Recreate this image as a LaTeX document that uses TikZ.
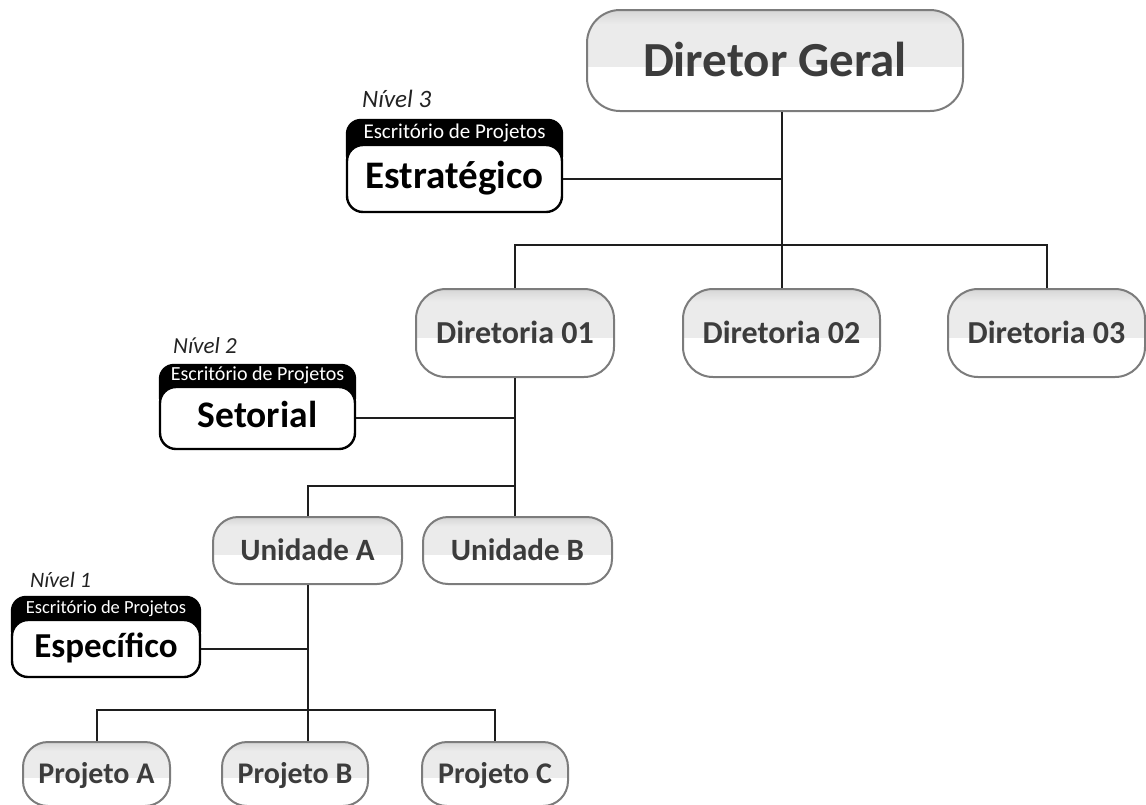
\documentclass[tikz,border=0pt]{standalone}
\usepackage{fontspec}
\setmainfont{Carlito}
\usetikzlibrary{calc,backgrounds}

\definecolor{boxline}{HTML}{7C7C7C}
\definecolor{boxband}{HTML}{EBEBEB}
\definecolor{boxbandtop}{HTML}{D6D6D6}
\definecolor{boxtext}{HTML}{3C3C3C}
\definecolor{wire}{HTML}{1E1E1E}
\definecolor{leveltext}{HTML}{222222}

\newcommand{\fsz}[1]{\fontsize{#1}{#1}\selectfont}

\tikzset{
  x=1pt, y=-1pt,
  % glossy grey organisational unit
  unitbox/.style={draw=boxline, line width=2pt, fill=white, inner sep=0pt,
    text=boxtext, text depth=0pt,
    path picture={
      \fill[boxband, sharp corners] (path picture bounding box.north west) rectangle
        ($(path picture bounding box.north east)!0.56!(path picture bounding box.south east)$);
      \shade[top color=boxbandtop, bottom color=boxband, sharp corners]
        (path picture bounding box.north west) rectangle
        ($(path picture bounding box.north east)!0.14!(path picture bounding box.south east)$);
    }},
  % project office box (white body under a black tab)
  pmobox/.style={draw=black, line width=2.4pt, fill=white, inner sep=0pt,
    rounded corners=16pt, text=black, text depth=5pt},
  pmotab/.style={fill=black, rounded corners=15pt},
  tabtext/.style={text=white, inner sep=0pt, anchor=base},
  level/.style={text=leveltext, inner sep=0pt, anchor=base west, font=\itshape},
  wire/.style={draw=wire, line width=2pt},
}

\begin{document}
\begin{tikzpicture}
\useasboundingbox (0,0) rectangle (1146,804);
\clip (0,0) rectangle (1146,804);

% ---- grey units ----
\node[unitbox, rounded corners=33pt, minimum width=376pt, minimum height=101pt,
      font=\bfseries\fsz{49}, text height=31.5pt] (dg) at (775,60.5) {Diretor Geral};

\node[unitbox, rounded corners=30pt, minimum width=198pt, minimum height=88pt,
      font=\bfseries\fsz{32}, text height=20.6pt] (d1) at (515,333) {Diretoria 01};
\node[unitbox, rounded corners=30pt, minimum width=197pt, minimum height=88pt,
      font=\bfseries\fsz{32}, text height=20.6pt] (d2) at (781.5,333) {Diretoria 02};
\node[unitbox, rounded corners=30pt, minimum width=197pt, minimum height=88pt,
      font=\bfseries\fsz{32}, text height=20.6pt] (d3) at (1046.5,333) {Diretoria 03};

\node[unitbox, rounded corners=25pt, minimum width=189pt, minimum height=67pt,
      font=\bfseries\fsz{31}, text height=20pt] (ua) at (307.5,550.5) {Unidade A};
\node[unitbox, rounded corners=25pt, minimum width=189pt, minimum height=67pt,
      font=\bfseries\fsz{31}, text height=20pt] (ub) at (517.5,550.5) {Unidade B};

\node[unitbox, rounded corners=25pt, minimum width=147pt, minimum height=64pt,
      font=\bfseries\fsz{30}, text height=19.3pt] (pa) at (96.5,774) {Projeto A};
\node[unitbox, rounded corners=25pt, minimum width=146pt, minimum height=64pt,
      font=\bfseries\fsz{30}, text height=19.3pt] (pb) at (295,774) {Projeto B};
\node[unitbox, rounded corners=25pt, minimum width=146pt, minimum height=64pt,
      font=\bfseries\fsz{30}, text height=19.3pt] (pc) at (495,774) {Projeto C};

% ---- project offices ----
\node[pmobox, minimum width=215pt, minimum height=67pt,
      font=\bfseries\fsz{39}, text height=25pt] (est) at (454.5,178.5) {Estratégico};
\node[pmobox, minimum width=195pt, minimum height=62pt,
      font=\bfseries\fsz{37.5}, text height=24pt] (set) at (257.5,418) {Setorial};
\node[pmobox, minimum width=188pt, minimum height=57pt,
      font=\bfseries\fsz{35}, text height=22.5pt] (spe) at (106,648.5) {Específico};

\begin{pgfonlayer}{background}
  \fill[pmotab] ([yshift=25pt]est.north west) rectangle ([yshift=-26pt]est.north east);
  \fill[pmotab] ([yshift=22pt]set.north west) rectangle ([yshift=-26pt]set.north east);
  \fill[pmotab] ([yshift=23pt]spe.north west) rectangle ([yshift=-26pt]spe.north east);
\end{pgfonlayer}

\node[tabtext, font=\fsz{21}] (estTab) at ([yshift=5pt]est.north) {Escritório de Projetos};
\node[tabtext, font=\fsz{20}] (setTab) at ([yshift=5pt]set.north) {Escritório de Projetos};
\node[tabtext, font=\fsz{18.5}] (speTab) at ([yshift=5pt]spe.north) {Escritório de Projetos};

\node[level, font=\itshape\fsz{25}] (lv3) at (362,107) {Nível 3};
\node[level, font=\itshape\fsz{23}] (lv2) at (173,353) {Nível 2};
\node[level, font=\itshape\fsz{22}] (lv1) at (30,587) {Nível 1};

% ---- bus levels ----
\coordinate (bus1) at (0,245);
\coordinate (bus2) at (0,486);
\coordinate (bus3) at (0,710);

% ---- connectors ----
\draw[wire] (d2.north |- dg.south) -- (d2.north);
\draw[wire] (d1.north) -- (d1.north |- bus1) -| (d3.north);
\draw[wire] (est.east) -- (est.east -| d2.north);

\draw[wire] (d1.south) -- (d1.south |- ub.north);
\draw[wire] (ua.north) -- (ua.north |- bus2) -- (d1.south |- bus2);
\draw[wire] (set.east) -- (set.east -| d1.south);

\draw[wire] (ua.south) -- (ua.south |- pb.north);
\draw[wire] (pa.north) -- (pa.north |- bus3) -| (pc.north);
\draw[wire] (spe.east) -- (spe.east -| ua.south);
\end{tikzpicture}
\end{document}
